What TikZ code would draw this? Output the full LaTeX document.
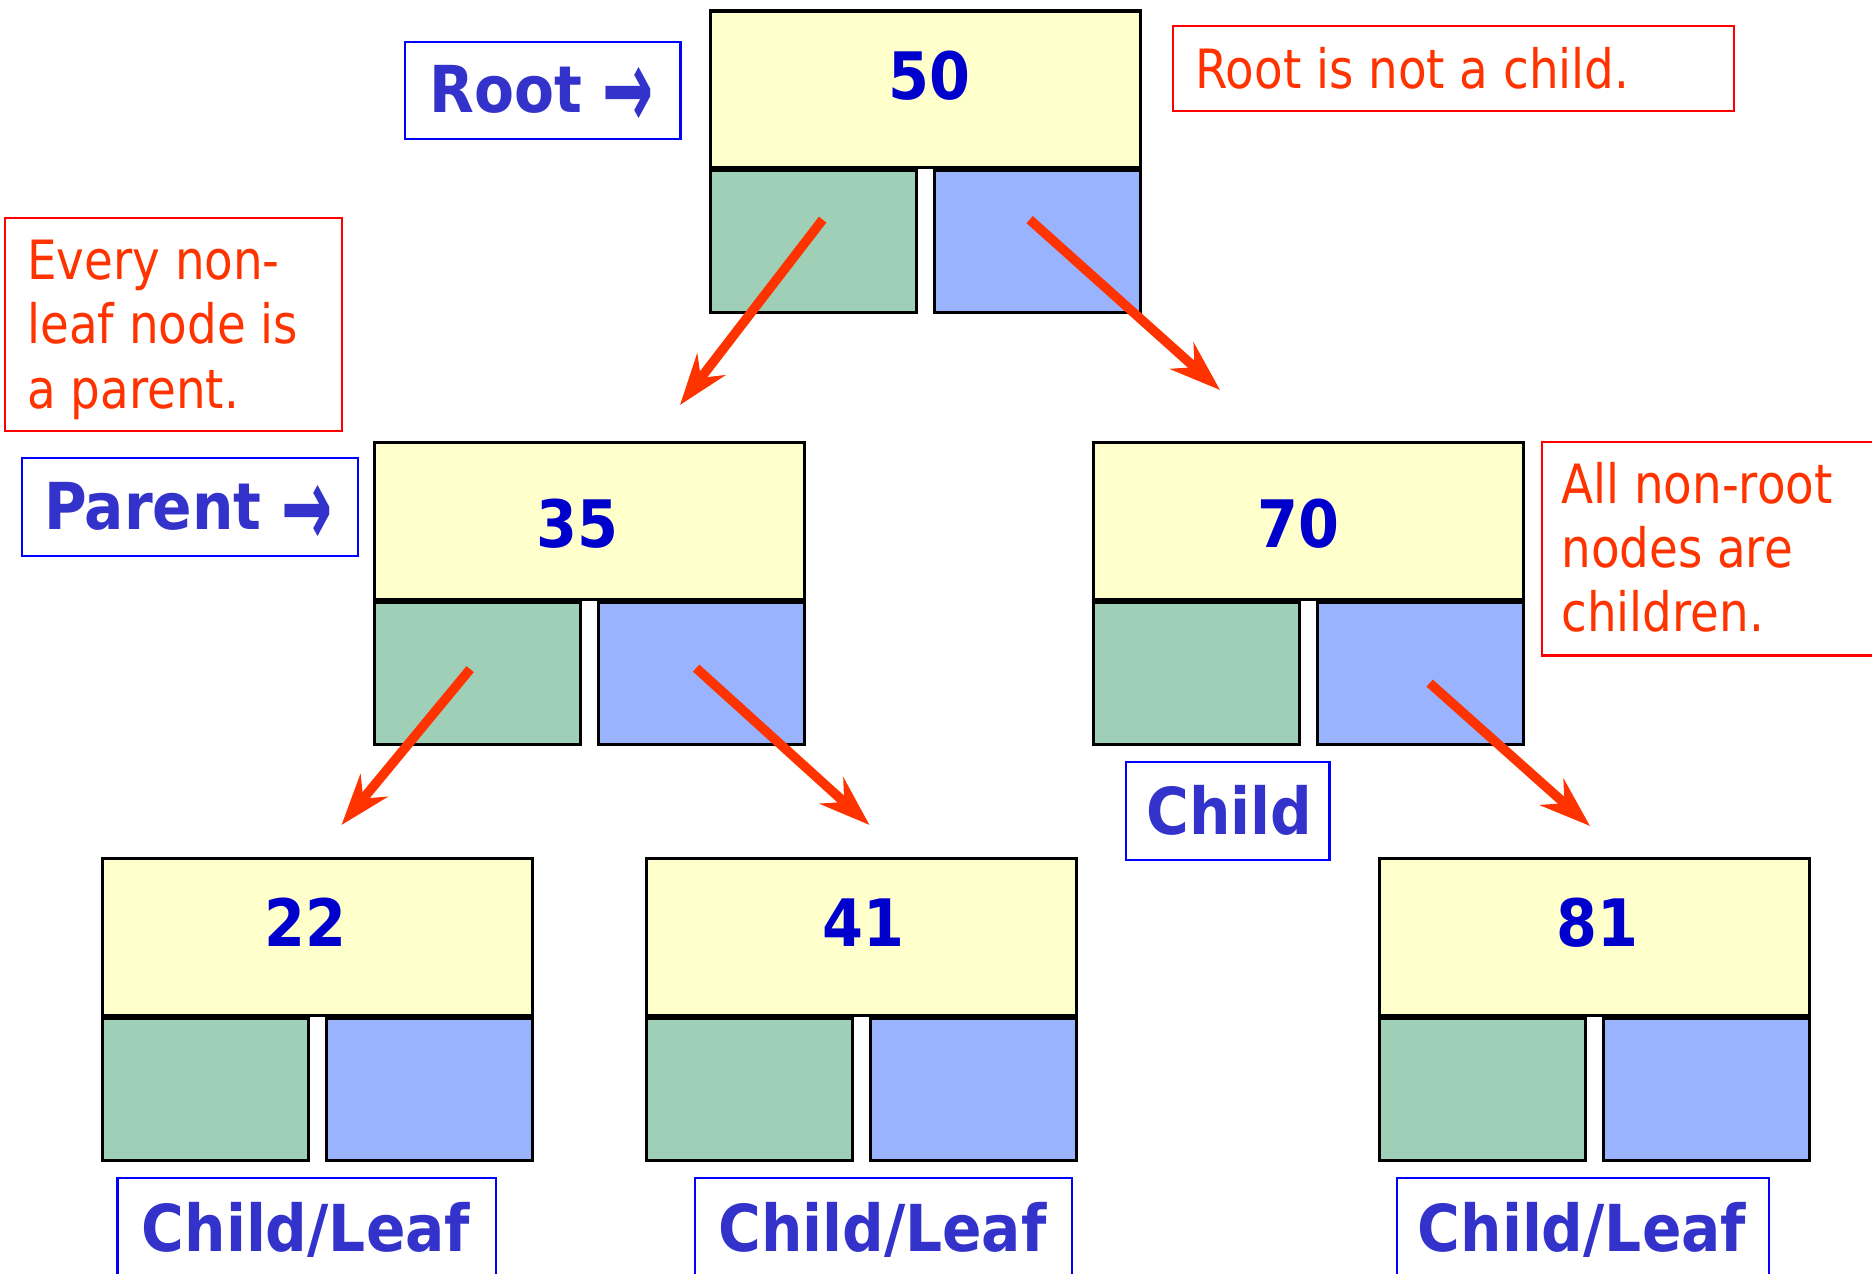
\documentclass[tikz,border=0pt]{standalone}
\usepackage{fontspec}
\usetikzlibrary{arrows.meta,calc}
\newfontfamily\notefont[FakeStretch=0.96]{DejaVu Sans Condensed}
\newfontfamily\tagfamily{DejaVu Sans Condensed}
\definecolor{keyyellow}{RGB}{255,255,204}
\definecolor{ptrgreen}{RGB}{160,207,184}
\definecolor{ptrblue}{RGB}{153,179,255}
\definecolor{numblue}{RGB}{0,0,204}
\definecolor{tagblue}{RGB}{51,51,204}
\definecolor{tagframe}{RGB}{0,0,255}
\definecolor{notered}{RGB}{255,51,0}
\definecolor{noteframe}{RGB}{255,0,0}
\definecolor{arrowred}{RGB}{255,51,0}
\tikzset{
  keybox/.style={draw=black, line width=0.9pt, fill=keyyellow, inner sep=0pt,
    minimum width=4.3cm, minimum height=1.565cm, anchor=north west},
  leftbox/.style={draw=black, line width=0.9pt, fill=ptrgreen, inner sep=0pt,
    minimum width=2.06cm, minimum height=1.42cm, anchor=north west},
  rightbox/.style={draw=black, line width=0.9pt, fill=ptrblue, inner sep=0pt,
    minimum width=2.06cm, minimum height=1.42cm, anchor=north west},
  keytext/.style={font={\tagfamily\bfseries\fontsize{18.6pt}{22pt}\selectfont},
    text=numblue, inner sep=0pt, anchor=base},
  tagbox/.style={draw=tagframe, line width=0.6pt, inner sep=0pt, anchor=north west},
  tagtext/.style={font={\tagfamily\bfseries\fontsize{18.4pt}{22pt}\selectfont},
    text=tagblue, inner sep=0pt},
  notebox/.style={draw=noteframe, line width=0.6pt, inner sep=0pt, anchor=north west},
  notetext/.style={font={\notefont\fontsize{15.4pt}{18pt}\selectfont},
    text=notered, inner sep=0pt, anchor=base west},
  ptr/.style={draw=arrowred, line width=2.7pt,
    -{Stealth[length=14.5pt, width=10pt, inset=4.8pt]}}
}
% tall pointing arrow used after a role name
\newcommand\tagarrow{\raisebox{-4.6pt}{\scalebox{1.05}[1.75]{→}}}
% tree node: name, left x, top y, key, key shift x, key baseline below top
\newcommand\treenode[6]{%
  \node[keybox] (#1) at (#2,#3) {};
  \node[leftbox] (#1l) at (#2,{#3+159.5}) {};
  \node[rightbox] (#1r) at ({#2+224},{#3+159.5}) {};
  \node[keytext] (#1k) at ({#2+215+#5},{#3+#6}) {#4};
}
\begin{document}
\begin{tikzpicture}[x=0.01cm, y=-0.01cm]
  \clip (0,0) rectangle (1872,1274);
  \fill[white] (0,0) rectangle (1872,1274);

  % binary search tree nodes
  \treenode{n50}{709}{9.5}{50}{5}{90}
  \treenode{n35}{372.5}{441}{35}{-10}{107}
  \treenode{n70}{1092}{441}{70}{-9}{107}
  \treenode{n22}{100.5}{857}{22}{-10}{90}
  \treenode{n41}{644.5}{857}{41}{4}{90}
  \treenode{n81}{1378}{857}{81}{4}{90}

  % arrow ends just above the child nodes
  \coordinate (t35) at (680,405);
  \coordinate (t70) at (1220,390);
  \coordinate (t22) at (341.5,825);
  \coordinate (t41) at (869.5,825);
  \coordinate (t81) at (1590,826);

  \draw[ptr] ($(n50l.center)+(9,-22)$) -- (t35);
  \draw[ptr] ($(n50r.center)+(-8,-22)$) -- (t70);
  \draw[ptr] ($(n35l.center)+(-7,-4)$) -- (t22);
  \draw[ptr] ($(n35r.center)+(-5,-5)$) -- (t41);
  \draw[ptr] ($(n70r.center)+(9,10)$) -- (t81);

  % blue role labels
  \node[tagbox, minimum width=2.75cm, minimum height=0.976cm] (rootTag) at (404.3,40.7) {};
  \node[tagtext, anchor=base west] (rootTxt) at (429,112.7) {Root \tagarrow};
  \node[tagbox, minimum width=3.363cm, minimum height=0.983cm] (parentTag) at (20.7,456.7) {};
  \node[tagtext, anchor=base west] (parentTxt) at (43.3,530) {Parent \tagarrow};
  \node[tagbox, minimum width=2.036cm, minimum height=0.983cm] (childTag) at (1124.7,760.7) {};
  \node[tagtext, anchor=base west] (childTxt) at (1145.7,835) {Child};
  \node[tagbox, minimum width=3.78cm, minimum height=1.0cm] (leafTagA) at (116.4,1177) {};
  \node[tagtext, anchor=base] (leafTxtA) at (306,1251.7) {Child/Leaf};
  \node[tagbox, minimum width=3.77cm, minimum height=1.0cm] (leafTagB) at (693.5,1177) {};
  \node[tagtext, anchor=base] (leafTxtB) at (882.5,1251.7) {Child/Leaf};
  \node[tagbox, minimum width=3.72cm, minimum height=1.0cm] (leafTagC) at (1396,1177) {};
  \node[tagtext, anchor=base] (leafTxtC) at (1582,1251.7) {Child/Leaf};

  % red notes
  \node[notebox, minimum width=5.61cm, minimum height=0.85cm] (noteRoot) at (1172,25) {};
  \node[notetext] (noteRootTxt) at (1195,88.3) {Root is not a child.};

  \node[notebox, minimum width=3.367cm, minimum height=2.133cm] (noteParent) at (4.3,216.7) {};
  \node[notetext] (noteParentA) at (26.7,280) {Every non-};
  \node[notetext] (noteParentB) at (26.7,343.3) {leaf node is};
  \node[notetext] (noteParentC) at (26.7,408.3) {a parent.};

  \node[notebox, minimum width=4.0cm, minimum height=2.133cm] (noteChild) at (1540.7,441) {};
  \node[notetext] (noteChildA) at (1560.7,504) {All non-root};
  \node[notetext] (noteChildB) at (1560.7,567.7) {nodes are};
  \node[notetext] (noteChildC) at (1560.7,632) {children.};
\end{tikzpicture}
\end{document}
